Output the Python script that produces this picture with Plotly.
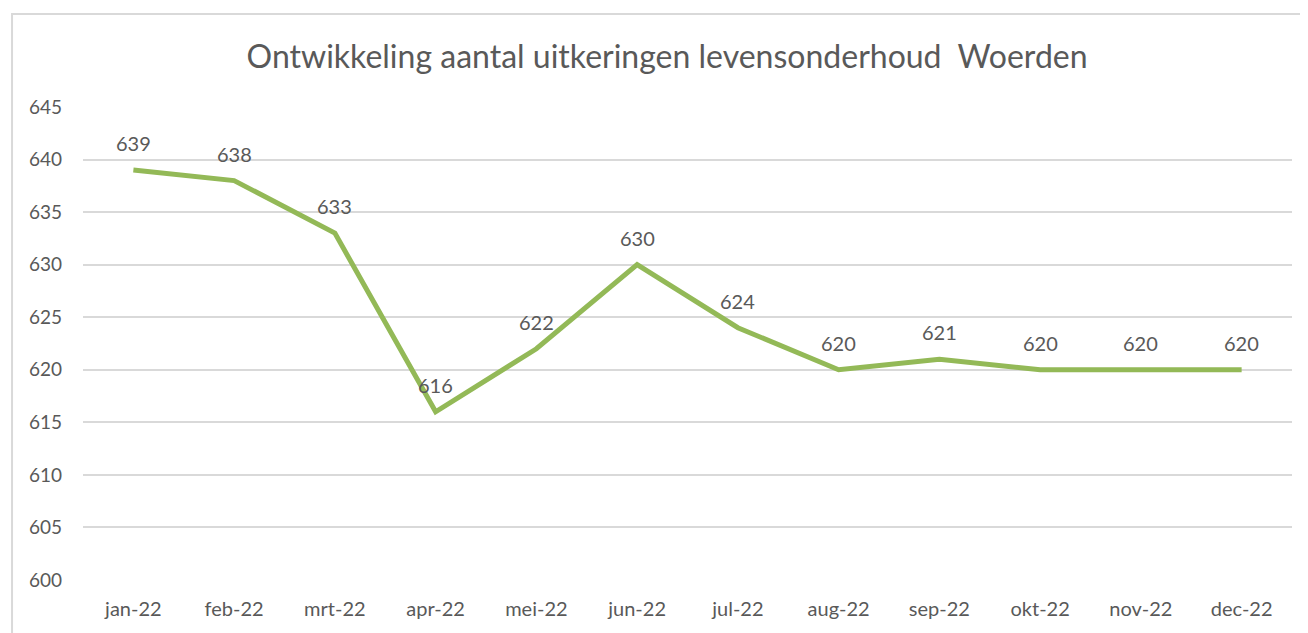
import plotly.graph_objects as go

maanden = ["jan-22", "feb-22", "mrt-22", "apr-22", "mei-22", "jun-22",
           "jul-22", "aug-22", "sep-22", "okt-22", "nov-22", "dec-22"]
aantal = [639, 638, 633, 616, 622, 630, 624, 620, 621, 620, 620, 620]
y_ticks = [600, 605, 610, 615, 620, 625, 630, 635, 640, 645]

grey = "#595959"
green = "#93B957"
font_fam = "Lato, sans-serif"

fig = go.Figure()
fig.add_trace(go.Scatter(
    x=maanden,
    y=aantal,
    mode="lines",
    line={"color": green, "width": 5},
    showlegend=False,
    cliponaxis=False))

# data labels above the points
for m, v in zip(maanden, aantal):
    fig.add_annotation(x=m, y=v, text=str(v), showarrow=False,
                       yshift=27, font={"size": 20, "color": grey, "family": font_fam})

fig.update_layout(
    width=1300, height=625,
    margin={"l": 75, "r": 16, "t": 99, "b": 53},
    paper_bgcolor="white",
    plot_bgcolor="white",
    font={"family": font_fam, "color": grey},
    title={"text": "Ontwikkeling aantal uitkeringen levensonderhoud&nbsp; Woerden",
           "x": 0.507, "xanchor": "center", "y": 1 - 49 / 625, "yanchor": "middle",
           "font": {"size": 32, "color": grey, "family": font_fam}})

fig.update_xaxes(range=[-0.5, len(maanden) - 0.5], showgrid=False, showline=False,
                 ticks="", automargin=False,
                 tickfont={"size": 20, "color": grey}, ticklabelstandoff=15)
fig.update_yaxes(range=[600, 645], tickvals=y_ticks, showgrid=True,
                 gridcolor="#d9d9d9", gridwidth=1.5, zeroline=False, automargin=False,
                 tickfont={"size": 19, "color": grey}, ticklabelstandoff=20)

# chart border (Excel style)
fig.add_shape(type="rect", xref="paper", yref="paper",
              x0=-0.0587, x1=1.05, y0=-0.2, y1=1.1966,
              line={"color": "#d9d9d9", "width": 2}, layer="below")

fig.write_html("out.html")
